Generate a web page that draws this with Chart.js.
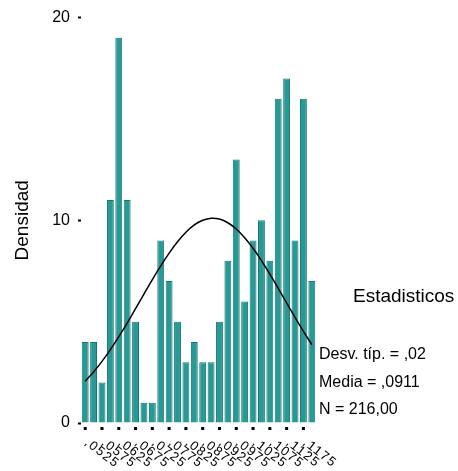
<!DOCTYPE html>
<html>
<head>
<meta charset="utf-8">
<script src="https://cdn.jsdelivr.net/npm/chart.js@4"></script>
<style>
  body { margin: 0; background: #fff; }
  #wrap { width: 458px; height: 471px; position: relative; }
</style>
</head>
<body>
<div id="wrap"><canvas id="chart1"></canvas></div>
<script>
// bin centers (shown every other bin)
var binLabels = [",0525", ",0550", ",0575", ",0600", ",0625", ",0650", ",0675", ",0700",
    ",0725", ",0750", ",0775", ",0800", ",0825", ",0850", ",0875", ",0900",
    ",0925", ",0950", ",0975", ",1000", ",1025", ",1050", ",1075", ",1100",
    ",1125", ",1150", ",1175", ",1200"];
var counts = [4, 4, 2, 11, 19, 11, 5, 1, 1, 9, 7, 5, 3, 4, 3, 3, 5, 8, 13, 6, 9, 10, 8, 16, 17, 9, 16, 7];
// normal curve, one point per bin
var curve = [2.06, 2.52, 3.04, 3.62, 4.26, 4.93, 5.64, 6.36, 7.07, 7.75, 8.38, 8.94, 9.41, 9.77,
    10.0, 10.1, 10.06, 9.88, 9.57, 9.14, 8.62, 8.01, 7.34, 6.64, 5.92, 5.21, 4.52, 3.87];
var yTicks = [0, 10, 20];
var statsTitle = "Estadisticos";
var statsLines = ["Desv. típ. = ,02", "Media = ,0911", "N = 216,00"];

var fontFam = "'Liberation Sans', Arial, sans-serif";

// tick squares + slanted labels under every other bar, and the stats text
var extras = {
    id: 'extras',
    afterDraw: function (chart) {
        var ctx = chart.ctx;
        var x = chart.scales.x;
        var bottom = chart.chartArea.bottom;
        ctx.save();
        ctx.fillStyle = '#000';
        ctx.textBaseline = 'middle';
        ctx.textAlign = 'left';
        for (var i = 0; i < binLabels.length; i += 2) {
            var px = x.getPixelForTick(i);
            ctx.fillRect(px - 1.5, bottom + 4, 3, 3);
            ctx.save();
            ctx.font = "13px " + fontFam;
            ctx.letterSpacing = '1.5px';
            ctx.translate(px + 1, bottom + 18);
            ctx.rotate(38 * Math.PI / 180);
            ctx.fillText(binLabels[i], 0, 0);
            ctx.restore();
        }
        ctx.font = "19px " + fontFam;
        ctx.fillText(statsTitle, 353, 297);
        ctx.font = "16px " + fontFam;
        for (var j = 0; j < statsLines.length; j++) {
            ctx.fillText(statsLines[j], 319, 355 + j * 27.5);
        }
        ctx.restore();
    }
};

var chartCanvas1 = document.getElementById('chart1');
var configCanvas1 = {
    type: 'bar',
    data: {
        labels: binLabels,
        datasets: [{
            type: 'line',
            data: curve,
            borderColor: '#000',
            borderWidth: 1.5,
            pointRadius: 0,
            tension: 0.4,
            fill: false,
            order: 0
        }, {
            data: counts,
            backgroundColor: '#2a9895',
            borderColor: '#0f7a77',
            borderWidth: 1,
            barPercentage: 0.82,
            categoryPercentage: 1,
            order: 1
        }]
    },
    options: {
        responsive: true,
        maintainAspectRatio: false,
        animation: false,
        layout: { padding: { top: 16, right: 142, bottom: 40, left: 0 } },
        plugins: { legend: { display: false }, tooltip: { enabled: false } },
        scales: {
            x: {
                offset: true,
                grid: { display: false },
                border: { display: false },
                ticks: { display: false }
            },
            y: {
                min: 0,
                max: 20,
                afterBuildTicks: function (axis) {
                    axis.ticks = yTicks.map(function (v) { return { value: v }; });
                },
                afterFit: function (axis) { axis.width = 81; },
                grid: {
                    drawOnChartArea: false,
                    drawTicks: true,
                    tickLength: 3,
                    tickWidth: 2,
                    tickColor: '#000'
                },
                border: { display: false },
                ticks: {
                    color: '#000',
                    padding: 8,
                    font: { family: fontFam, size: 16 }
                },
                title: {
                    display: true,
                    text: 'Densidad',
                    color: '#000',
                    padding: { top: 11, bottom: 0 },
                    font: { family: fontFam, size: 19 }
                }
            }
        }
    },
    plugins: [extras]
};

var myChart1 = new Chart(chartCanvas1, configCanvas1);
</script>
</body>
</html>
